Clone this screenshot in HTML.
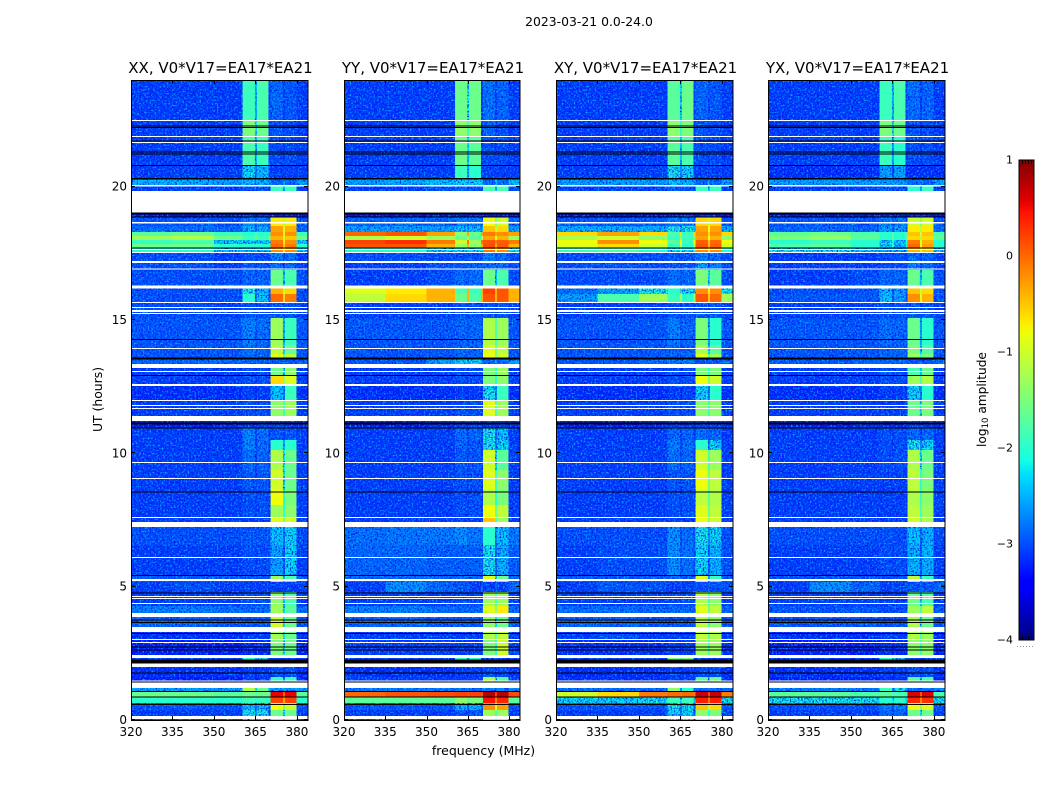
<!DOCTYPE html>
<html lang="en">
<head>
<meta charset="utf-8">
<title>2023-03-21 amplitude waterfall</title>
<style>
html,body{margin:0;padding:0;background:#fff;width:1050px;height:800px;overflow:hidden}
svg{display:block}
text{font-family:"DejaVu Sans","Liberation Sans",sans-serif;fill:#000}
</style>
</head>
<body>
<svg id="figure" xmlns="http://www.w3.org/2000/svg" width="1050" height="800" viewBox="0 0 1050 800">
  <defs>
    <filter id="speckle-dark" x="0" y="0" width="100%" height="100%" color-interpolation-filters="sRGB">
      <feTurbulence type="fractalNoise" baseFrequency="0.62" numOctaves="1" seed="4"/>
      <feColorMatrix values="0 0 0 0 0  0 0 0 0 0.08  0 0 0 0 0.92  3.5 0 0 0 -1.55"/>
    </filter>
    <filter id="speckle-light" x="0" y="0" width="100%" height="100%" color-interpolation-filters="sRGB">
      <feTurbulence type="fractalNoise" baseFrequency="0.58" numOctaves="1" seed="11"/>
      <feColorMatrix values="0 0 0 0 0  0 0 0 0 0.7  0 0 0 0 1  0 3.5 0 0 -1.75"/>
    </filter>
    <linearGradient id="jet-gradient" x1="0" y1="1" x2="0" y2="0"></linearGradient>
  </defs>
  <text x="589" y="26" font-size="12.4" text-anchor="middle">2023-03-21 0.0-24.0</text>
  <text x="483.5" y="755" font-size="12.5" text-anchor="middle">frequency (MHz)</text>
  <text x="102" y="399.5" font-size="12.4" text-anchor="middle" transform="rotate(-90 102 399.5)">UT (hours)</text>
  <text x="986" y="399.5" font-size="12.2" text-anchor="middle" transform="rotate(-90 986 399.5)">log<tspan font-size="8.5" dy="2">10</tspan><tspan dy="-2"> amplitude</tspan></text>
</svg>
<script>
// ---- chart data -------------------------------------------------------
var panelTitles = ['XX, V0*V17=EA17*EA21','YY, V0*V17=EA17*EA21','XY, V0*V17=EA17*EA21','YX, V0*V17=EA17*EA21'];
var freqTicks = [320,335,350,365,380];
var utTicks = [0,5,10,15,20];
var colorTicks = [1,0,-1,-2,-3,-4];
// channel band limits in MHz
var freqEdges = [320,335,350,360.4,364.8,365.5,369.8,370.5,374.9,375.6,379.9,384];
// top of each time row, UT hours (the last row ends at 0)
var utRowTops = [24,22.5,21.9,20.81,20.29,20.03,19.84,19.01,18.86,18.53,18.3,18.15,18,17.85,17.7,17.55,17.18,16.88,16.28,15.98,15.64,15.08,14.06,13.73,13.58,13.2,12.94,12.6,12,11.4,11.21,10.95,10.5,10.13,9.38,8.63,8.06,7.58,7.24,6.56,5.44,5.18,4.8,4.28,4.01,3.86,3.49,3.3,3,2.44,2.33,1.99,1.61,1.43,1.2,1.05,0.86,0.64,0.38];
// flagged (blank) time ranges, UT hours
var maskedRanges = [[22.46,22.5],[21.86,21.9],[21.64,21.68],[20.01,20.06],[19.03,19.82],[18.62,18.68],[17.63,17.66],[17.51,17.55],[17.14,17.21],[16.89,16.93],[16.18,16.29],[15.64,15.68],[15.45,15.49],[15.3,15.38],[15.23,15.26],[13.91,13.95],[13.2,13.35],[13.05,13.09],[12.53,12.6],[11.96,12],[11.78,11.81],[11.66,11.7],[11.21,11.4],[9.64,9.68],[9.04,9.08],[7.58,7.61],[7.24,7.43],[6.08,6.11],[5.21,5.29],[4.61,4.65],[4.54,4.58],[4.35,4.39],[3.86,4.01],[3.3,3.49],[3,3.04],[2.89,2.93],[2.33,2.44],[1.99,2.12],[1.44,1.48],[1.2,1.35],[0.04,0.15]];
// zero-amplitude (black) time ranges, UT hours
var deadRanges = [[22.26,22.3],[22.2,22.24],[21.69,21.73],[21.28,21.32],[21.21,21.25],[20.77,20.81],[20.26,20.33],[18.96,19.03],[18.84,18.88],[17.68,17.72],[14.25,14.29],[13.56,13.6],[13.52,13.56],[12.9,12.94],[11.08,11.16],[10.93,10.97],[8.53,8.57],[5.4,5.44],[4.74,4.78],[3.73,3.77],[3.64,3.68],[3.22,3.26],[2.72,2.76],[2.61,2.65],[2.12,2.26],[1.74,1.78],[1.41,1.45],[1.05,1.09],[0.84,0.88],[0.56,0.6]];
// log10 amplitude per time row: 320-335, 335-350, 350-360, band A1, band A2, band B1, band B2
var xxValues = [
[-3.1,-3.1,-3.1,-1.9,-1.8,-2.85,-2.95],[-3.1,-3.1,-3.1,-1.5,-1.6,-2.95,-3],[-3.1,-3.1,-3.1,-1.8,-1.9,-3,-3],[-3.1,-3.1,-3.1,-2.2,-2.3,-3.1,-3.1],
[-2.4,-2.4,-2.5,-2.3,-2.4,-2.85,-2.85],[-3.1,-3.1,-3.1,-2.95,-2.95,-1.9,-1.9],null,[-3.35,-3.35,-3.35,-3.3,-3.3,-3.3,-3.3],
[-2.95,-2.95,-3,-2.7,-2.7,-0.7,-0.7],[-2.8,-2.8,-2.85,-2.4,-2.4,-0.3,-0.4],[-1.7,-1.6,-1.9,-2,-2,-0.2,-0.2],[-1.3,-1.2,-1.6,-1.9,-1.9,-0.4,-0.5],
[-1.9,-1.8,-2.2,-2.2,-2.2,-0.1,-0.2],[-1.6,-1.6,-2,-2,-2,0,-0.1],[-2,-2,-2.3,-2.4,-2.4,-0.2,-0.2],[-3,-3,-3.1,-3,-3,-2.7,-2.8],
[-3,-3,-3.1,-2.95,-2.95,-2.8,-2.8],[-3,-3,-3,-2.85,-2.85,-1.6,-1.8],[-3,-3,-3,-2.1,-2.3,-0.4,-0.6],[-3,-3,-3,-2,-2.3,0,-0.1],
[-3,-3,-3.1,-3,-3,-2.95,-2.95],[-2.95,-2.95,-2.95,-2.7,-2.8,-1.3,-1.9],[-2.95,-2.95,-2.95,-2.8,-2.85,-1.1,-1.6],[-2.95,-2.95,-2.95,-2.8,-2.85,-0.9,-1.2],
[-2.85,-2.85,-2.85,-2.85,-2.85,-2.95,-2.95],[-3.1,-3.1,-3.1,-3,-3,-1.6,-1.4],[-3.1,-3.1,-3.1,-3,-3,-0.6,-0.9],[-3.2,-3.2,-3.2,-3.1,-3.1,-2.3,-1.9],
[-3.1,-3.1,-3.1,-3,-3,-1.4,-1.3],null,[-3.3,-3.3,-3.2,-3.1,-3.1,-3.1,-3.1],[-3.1,-3.1,-3.1,-2.7,-2.8,-2.95,-2.95],
[-3.1,-3.1,-3.1,-2.7,-2.8,-2,-2],[-3.1,-3.1,-3.1,-2.8,-2.85,-1.2,-1.6],[-3.1,-3.1,-3.1,-2.95,-2.95,-1,-1.6],[-3.1,-3.1,-3.1,-3,-3,-0.8,-1.5],
[-3.1,-3.1,-3.1,-3,-3,-1.3,-1.4],[-3.1,-3.1,-3.1,-3.1,-3.1,-0.9,-1],[-3,-3,-3,-2.95,-2.95,-2.3,-2.2],[-3.1,-3.1,-3.1,-3,-3,-2.5,-2.2],
[-2.95,-2.95,-2.95,-2.95,-2.95,-1.3,-1.8],[-3.1,-3,-3.1,-3.1,-3.1,-3.1,-3.1],[-3.1,-3.1,-3.1,-3,-3,-1.4,-1.8],[-2.7,-2.7,-2.8,-2.85,-2.85,-1.3,-1.7],
null,[-2.85,-2.85,-2.95,-2.95,-2.95,-1,-1.6],null,[-3.2,-3.2,-3.2,-3.1,-3.1,-1.3,-1.6],
[-3.3,-3.3,-3.3,-3.2,-3.2,-1.5,-1.6],null,[-3.1,-3.1,-3.1,-2,-2.1,-3.1,-3.1],[-3.2,-3.2,-3.2,-3.1,-3.1,-3,-3],
[-3.3,-3.3,-3.3,-3.1,-3.1,-1.9,-1.9],null,[-2.5,-2.5,-2.5,-1.2,-1.6,-2.5,-2.5],[-1.6,-1.6,-1.7,-1.6,-1.6,0.55,0.55],
[-2,-2,-2,-1.9,-1.9,0.2,0.2],[-2.95,-2.95,-2.95,-2.3,-2.3,-0.8,-1],[-3.1,-3.1,-3.1,-2.1,-2.1,-1.6,-1.6]];
var yyValues = [
[-3.1,-3.1,-3.1,-1.6,-1.6,-2.8,-2.85],[-3.1,-3.1,-3.1,-1.4,-1.4,-2.85,-2.95],[-3.1,-3.1,-3.1,-1.6,-1.7,-3,-3],[-3.1,-3.1,-3.1,-1.9,-2,-3.1,-3.1],
[-2.5,-2.4,-2.3,-2.2,-2.2,-2.8,-2.8],[-3.1,-3.1,-3,-2.85,-2.95,-1.8,-1.8],null,[-3.35,-3.35,-3.35,-3.3,-3.3,-3.3,-3.3],
[-2.85,-2.85,-2.85,-2.7,-2.7,-0.8,-1],[-2.5,-2.5,-2.5,-2.3,-2.3,-0.5,-0.6],[0,0.1,-0.3,-1.4,-1.6,-0.1,-0.2],[-1.2,-1,-1.3,-1.6,-1.7,-0.3,-0.4],
[0.2,0.3,-0.1,-1,-1.3,0.1,0.05],[0.1,0.1,-0.4,-1.3,-1.4,0.15,0.1],[-2,-2,-2.2,-2.2,-2.2,-0.1,-0.2],[-3,-3,-3,-3,-3,-2.7,-2.8],
[-3.1,-3.1,-2.95,-2.95,-2.95,-2.8,-2.8],[-3.1,-3.1,-3,-2.8,-2.8,-1.6,-1.8],[-0.9,-0.7,-0.4,-1.8,-1.9,0.2,0.1],[-1.1,-0.6,-0.4,-1.6,-1.8,0.1,0.1],
[-3.1,-3.1,-3.1,-3,-3,-2.95,-2.95],[-2.95,-2.95,-2.95,-2.85,-2.85,-1.2,-1.3],[-2.95,-2.95,-2.95,-2.85,-2.85,-0.9,-1.1],[-2.95,-2.95,-2.95,-2.85,-2.85,-0.8,-1],
[-2.95,-2.95,-2.5,-2.2,-2.2,-2.85,-2.85],[-3.1,-3.1,-3.1,-3,-3,-1.5,-1.3],[-3.1,-3.1,-3.1,-3,-3,-1.5,-1.4],[-3.2,-3.2,-3.2,-3.1,-3.1,-2.1,-1.9],
[-3.1,-3.1,-3.1,-3,-3,-0.9,-1.3],null,[-3.3,-3.3,-3.2,-3.1,-3.1,-3.1,-3.1],[-3.1,-3.1,-3.1,-2.85,-2.85,-2.1,-2.3],
[-3.1,-3.1,-3.1,-2.85,-2.95,-2.1,-2.2],[-3.1,-3.1,-3.1,-2.95,-2.95,-1,-1.7],[-3.1,-3.1,-3.1,-3,-3,-0.9,-1.4],[-3.1,-3.1,-3.1,-3,-3,-1.2,-1.5],
[-3.1,-3.1,-3.1,-3,-3,-0.8,-1.1],[-3.1,-3.1,-3.1,-3.1,-3.1,-0.5,-1.3],[-2.8,-2.75,-2.75,-2.6,-2.75,-2,-2.3],[-2.85,-2.85,-2.9,-2.9,-2.9,-2.1,-2.4],
[-2.85,-2.85,-2.85,-2.85,-2.85,-0.9,-1.6],[-3.1,-2.6,-2.85,-3,-3.1,-3.1,-3.1],[-3.1,-3.1,-3.1,-3,-3,-1.3,-1.3],[-2.7,-2.7,-2.8,-2.85,-2.85,-0.9,-0.7],
null,[-2.85,-2.85,-2.95,-2.95,-2.95,-1.4,-1.6],null,[-3.1,-3.1,-3.1,-3.1,-3.1,-1.2,-1.1],
[-3.1,-3.1,-3.1,-3.1,-3.1,-1.5,-1],null,[-3.1,-3.1,-3.1,-2,-2,-3.1,-3.1],[-3.2,-3.2,-3.2,-3.1,-3.1,-3,-3],
[-3.1,-3.1,-3.1,-3.1,-3.1,-1.2,-1.7],null,[-2.7,-2.7,-2.7,-2.7,-2.8,-2.7,-2.7],[0,0.1,0.15,0.2,0.2,0.75,0.75],
[-1.7,-1.7,-1.7,-1.4,-1.5,0.45,0.35],[-2.95,-2.95,-2.95,-2.4,-2.4,-0.2,-0.3],[-3.1,-3.1,-3.1,-2.95,-2.95,-1.3,-1.3]];
var xyValues = [
[-3.1,-3.1,-3.1,-1.7,-1.6,-2.85,-2.95],[-3.1,-3.1,-3.1,-1.4,-1.5,-2.95,-3],[-3.1,-3.1,-3.1,-1.7,-1.8,-3,-3],[-3.1,-3.1,-3.1,-2.1,-2.2,-3.1,-3.1],
[-2.5,-2.5,-2.5,-2.3,-2.4,-2.85,-2.85],[-3.1,-3.1,-3.1,-2.85,-2.95,-1.9,-1.9],null,[-3.35,-3.35,-3.35,-3.3,-3.3,-3.3,-3.3],
[-2.95,-2.95,-2.95,-2.7,-2.7,-0.6,-0.6],[-2.4,-2.4,-2.4,-2.1,-2.1,-0.3,-0.3],[-0.6,-0.3,-0.6,-1.8,-1.9,-0.2,-0.2],[-1.2,-1,-1.4,-1.9,-1.9,-0.3,-0.4],
[-0.8,-0.2,-0.8,-1.7,-1.9,0.05,0],[-0.9,-0.6,-1,-1.9,-2,0.1,0.05],[-1.9,-1.8,-2,-2.2,-2.2,-0.2,-0.2],[-3,-3,-3,-2.95,-2.95,-2.7,-2.8],
[-3,-3,-3,-2.95,-3,-2.5,-2.7],[-3,-3,-3,-2.8,-2.85,-1.5,-1.7],[-2.8,-2.5,-2.1,-2,-2.1,-0.2,-0.2],[-2.5,-1.8,-1.3,-1.9,-2,0.1,0],
[-3.1,-3.1,-3.1,-3,-3,-2.95,-2.95],[-2.95,-2.95,-2.95,-2.7,-2.85,-1.5,-2],[-2.95,-2.95,-2.95,-2.85,-2.85,-1.2,-1.7],[-2.95,-2.95,-2.95,-2.85,-2.85,-0.9,-1.3],
[-2.95,-2.95,-2.85,-2.7,-2.7,-2.95,-2.95],[-3.1,-3.1,-3.1,-3,-3,-1.5,-1.5],[-3.1,-3.1,-3.1,-3,-3,-0.8,-1],[-3.2,-3.2,-3.2,-3.1,-3.1,-2.2,-2],
[-3.1,-3.1,-3.1,-3,-3,-1.4,-1.4],null,[-3.3,-3.3,-3.2,-3.1,-3.1,-3.1,-3.1],[-3.1,-3.1,-3.1,-2.85,-2.85,-2.8,-2.85],
[-3.1,-3.1,-3.1,-2.7,-2.8,-2,-2.2],[-3.1,-3.1,-3.1,-2.8,-2.85,-1,-1.3],[-3.1,-3.1,-3.1,-2.95,-2.95,-0.8,-1.1],[-3.1,-3.1,-3.1,-3,-3,-1.1,-1.2],
[-3.1,-3.1,-3.1,-3,-3,-0.9,-1.1],[-3.1,-3.1,-3.1,-3.1,-3.1,-0.8,-1],[-3,-3,-3,-2.6,-2.8,-2.1,-2.2],[-3.1,-3,-3,-2.6,-2.8,-2.2,-2.4],
[-2.95,-2.95,-2.95,-2.85,-2.95,-0.9,-1.9],[-3.1,-2.95,-3,-3.1,-3.1,-3,-3],[-3.1,-3.1,-3.1,-3,-3,-1.2,-1.4],[-2.8,-2.8,-2.85,-2.85,-2.85,-0.9,-1.1],
null,[-2.85,-2.85,-2.95,-2.95,-2.95,-1.1,-1.4],null,[-3.1,-3,-3.1,-3.1,-3.1,-1.1,-1.2],
[-3.2,-3.2,-3.2,-3.1,-3.1,-1.3,-1.3],null,[-3.1,-3.1,-3.1,-1.5,-1.5,-3.1,-3.1],[-3.2,-3.2,-3.2,-3.1,-3.1,-3,-3],
[-3.2,-3.2,-3.2,-3.1,-3.1,-1.7,-1.6],null,[-2.8,-2.8,-2.8,-1.4,-2,-2.8,-2.8],[-1,-0.6,-0.1,0,0,0.7,0.7],
[-2.2,-2.2,-2.1,-1.9,-1.9,0.4,0.4],[-2.95,-2.95,-2.95,-2.1,-2.2,-0.5,-0.6],[-3.1,-3.1,-3.1,-2.2,-2.2,-1.4,-1.5]];
var yxValues = [
[-3.1,-3.1,-3.1,-1.9,-1.8,-2.8,-2.85],[-3.1,-3.1,-3.1,-1.5,-1.6,-2.95,-3],[-3.1,-3.1,-3.1,-1.9,-2,-3,-3],[-3.2,-3.2,-3.2,-2.5,-2.5,-3.2,-3.2],
[-2.5,-2.5,-2.5,-2.5,-2.5,-2.85,-2.85],[-3.1,-3.1,-3.1,-2.95,-2.95,-2,-1.9],null,[-3.35,-3.35,-3.35,-3.3,-3.3,-3.3,-3.3],
[-2.95,-2.95,-2.95,-2.7,-2.7,-1,-1],[-2.85,-2.85,-2.85,-2.5,-2.5,-0.7,-0.7],[-1.7,-1.6,-1.8,-2,-2,-0.5,-0.5],[-1.5,-1.4,-1.7,-2,-2,-0.6,-0.6],
[-2,-1.9,-2,-2.2,-2.3,-0.1,-0.4],[-1.8,-1.7,-2,-2.2,-2.3,0,-0.3],[-2.1,-2.1,-2.3,-2.5,-2.5,-0.4,-0.5],[-3.1,-3.1,-3.1,-3,-3,-2.8,-2.85],
[-3.1,-3.1,-3.1,-3,-3,-2.7,-2.8],[-3.1,-3.1,-3,-2.85,-2.85,-1.6,-1.8],[-3,-3,-2.95,-2.3,-2.5,-0.5,-0.6],[-2.95,-2.95,-2.95,-2.3,-2.5,-0.2,-0.4],
[-3.1,-3.1,-3.1,-3,-3,-2.95,-2.95],[-2.95,-2.95,-2.95,-2.8,-2.85,-1.6,-2],[-2.95,-2.95,-2.95,-2.85,-2.85,-1.5,-1.8],[-2.95,-2.95,-2.95,-2.85,-2.85,-1.3,-1.5],
[-2.95,-2.95,-2.85,-2.85,-2.85,-2.95,-2.95],[-3.1,-3.1,-3.1,-3,-3,-1.8,-1.6],[-3.1,-3.1,-3.1,-3,-3,-1.3,-1.2],[-3.2,-3.2,-3.2,-3.1,-3.1,-2.2,-2],
[-3.1,-3.1,-3.1,-3.1,-3.1,-1.6,-1.5],null,[-3.3,-3.3,-3.2,-3.2,-3.2,-3.1,-3.1],[-3.1,-3.1,-3.1,-3,-3,-2.85,-2.85],
[-3.1,-3.1,-3.1,-3,-3,-2.1,-2.2],[-3.1,-3.1,-3.1,-3,-3,-1.2,-1.6],[-3.1,-3.1,-3.1,-3.1,-3.1,-1.1,-1.5],[-3.1,-3.1,-3.1,-3.1,-3.1,-1.2,-1.4],
[-3.1,-3.1,-3.1,-3.1,-3.1,-1.1,-1.3],[-3.1,-3.1,-3.1,-3.1,-3.1,-1,-1.2],[-3,-3,-3,-3,-3,-2.3,-2.4],[-3.1,-3.1,-3.1,-3,-3,-2.4,-2.4],
[-3,-3,-3,-3,-3,-1.1,-1.9],[-3.1,-2.6,-2.85,-3.1,-3.1,-3,-3],[-3.1,-3.1,-3.1,-3.1,-3.1,-1.6,-1.8],[-2.95,-2.95,-2.95,-3,-3,-1.3,-1.1],
null,[-2.95,-2.95,-2.95,-3,-3,-1.2,-1.6],null,[-3.2,-3.2,-3.2,-3.1,-3.1,-1.2,-1.3],
[-3.3,-3.3,-3.3,-3.2,-3.2,-1.4,-1.4],null,[-3.1,-3.1,-3.1,-2,-2.1,-3.1,-3.1],[-3.2,-3.2,-3.2,-3.1,-3.1,-3,-3],
[-3.3,-3.3,-3.3,-3.2,-3.2,-1.7,-1.8],null,[-2.7,-2.7,-2.7,-1.9,-2.1,-2.8,-2.8],[-1.7,-1.7,-1.8,-1.7,-1.8,0.6,0.6],
[-2.1,-2.1,-2.1,-2,-2,0.35,0.3],[-3,-3,-3,-2.7,-2.7,-0.8,-0.9],[-3.1,-3.1,-3.1,-2.85,-2.85,-1.6,-1.6]];
var panelValues = [xxValues,yyValues,xyValues,yxValues];

// ---- layout -----------------------------------------------------------
var svg = document.getElementById('figure');
var defs = svg.querySelector('defs');
var NS = 'http://www.w3.org/2000/svg';
var panelLefts = [131,344,556,768];
var panelWidths = [177,176,177,177];
var plotTop = 80, plotBottom = 720;
var cbarX = 1019, cbarW = 15, cbarTop = 160, cbarBottom = 640;
var noisyBelow = -2.05;

function mk(tag, attrs, parent){
  var el = document.createElementNS(NS, tag);
  for (var k in attrs) el.setAttribute(k, attrs[k]);
  parent.appendChild(el);
  return el;
}
function interp(stops, t){
  for (var i = 1; i < stops.length; i++){
    if (t <= stops[i][0]){
      var a = stops[i-1], b = stops[i];
      return a[1] + (b[1]-a[1]) * (t-a[0]) / (b[0]-a[0]);
    }
  }
  return stops[stops.length-1][1];
}
var jetR = [[0,0],[0.35,0],[0.66,1],[0.89,1],[1,0.5]];
var jetG = [[0,0],[0.125,0],[0.375,1],[0.64,1],[0.91,0],[1,0]];
var jetB = [[0,0.5],[0.11,1],[0.34,1],[0.65,0],[1,0]];
function jet(t){
  t = Math.max(0, Math.min(1, t));
  return 'rgb(' + Math.round(255*interp(jetR,t)) + ',' + Math.round(255*interp(jetG,t)) + ',' + Math.round(255*interp(jetB,t)) + ')';
}
function colorOf(v){ return jet((v + 4) / 5); }
function xScale(left, width, f){ return left + (f - 320) * (width / 64); }
function yScale(ut){ return plotBottom - ut * ((plotBottom - plotTop) / 24); }
function cellValue(row, c){
  // channels: three background spans, then the two split receiver bands with their notches
  if (c < 3) return row[c];
  if (c === 3) return row[3];
  if (c === 4) return Math.max(Math.min(row[3], row[4]) - 0.5, row[2]);
  if (c === 5) return row[4];
  if (c === 6) return row[2];
  if (c === 7) return row[5];
  if (c === 8) return Math.max(Math.min(row[5], row[6]) - 0.5, row[2]);
  if (c === 9) return row[6];
  return row[2];
}

// ---- panels -----------------------------------------------------------
panelValues.forEach(function(matrix, p){
  var left = panelLefts[p];
  var plotW = panelWidths[p];
  var g = mk('g', {}, svg);
  
  

  var title = mk('text', {x: left + plotW/2 + 1, y: 73, 'font-size': 15, 'text-anchor': 'middle'}, g);
  title.textContent = panelTitles[p];
  
  

  var heat = mk('g', {'shape-rendering': 'crispEdges'}, g);
  
  

  var clip = mk('clipPath', {id: 'noise-clip-' + p}, defs);

  matrix.forEach(function(row, r){
    if (!row) return;
    var top = yScale(utRowTops[r]);
    var bottom = yScale(r + 1 < utRowTops.length ? utRowTops[r+1] : 0);
    for (var c = 0; c < freqEdges.length - 1; c++){
      var x0 = xScale(left, plotW, freqEdges[c]), x1 = xScale(left, plotW, freqEdges[c+1]);
      var v = cellValue(row, c);
      var cell = mk('rect', {x: x0, y: top, width: x1 - x0, height: bottom - top, fill: colorOf(v)}, heat);
      
      
      if (v < noisyBelow) mk('rect', {x: x0, y: top, width: x1 - x0, height: bottom - top}, clip);
    }
  });

  var noise = mk('g', {'clip-path': 'url(#noise-clip-' + p + ')'}, g);
  
  
  var sp1 = mk('rect', {x: left, y: plotTop, width: plotW, height: plotBottom - plotTop, filter: 'url(#speckle-dark)'}, noise);
  
  
  var sp2 = mk('rect', {x: left, y: plotTop, width: plotW, height: plotBottom - plotTop, filter: 'url(#speckle-light)'}, noise);
  
  

  maskedRanges.forEach(function(m){
    var band = mk('rect', {x: left, y: yScale(m[1]), width: plotW, height: yScale(m[0]) - yScale(m[1]), fill: '#fff', 'shape-rendering': 'crispEdges'}, g);
    
    
  });
  deadRanges.forEach(function(m){
    var band = mk('rect', {x: left, y: yScale(m[1]), width: plotW, height: yScale(m[0]) - yScale(m[1]), fill: '#000', 'shape-rendering': 'crispEdges'}, g);
    
    
  });

  var frame = mk('rect', {x: left + 0.5, y: plotTop + 0.5, width: plotW - 0.5, height: plotBottom - plotTop, fill: 'none', stroke: '#000', 'stroke-width': 1}, g);
  
  

  freqTicks.forEach(function(f){
    var x = Math.round(xScale(left, plotW, f)) + 0.5;
    var t1 = mk('line', {x1: x, x2: x, y1: plotBottom, y2: plotBottom - 4, stroke: '#000'}, g);
    
    
    var t2 = mk('line', {x1: x, x2: x, y1: plotTop, y2: plotTop + 4, stroke: '#000'}, g);
    
    
    var lab = mk('text', {x: xScale(left, plotW, f), y: 736, 'font-size': 12, 'text-anchor': 'middle'}, g);
    lab.textContent = f;
    
    
  });
  utTicks.forEach(function(u){
    var y = Math.round(yScale(u)) - 0.5;
    var t1 = mk('line', {x1: left, x2: left + 4, y1: y, y2: y, stroke: '#000'}, g);
    
    
    var t2 = mk('line', {x1: left + plotW, x2: left + plotW - 4, y1: y, y2: y, stroke: '#000'}, g);
    
    
    var lab = mk('text', {x: left - 4, y: yScale(u) + 4, 'font-size': 12, 'text-anchor': 'end'}, g);
    lab.textContent = u;
    
    
  });
});

// ---- colorbar ---------------------------------------------------------
var grad = document.getElementById('jet-gradient');
for (var i = 0; i <= 64; i++){
  mk('stop', {offset: (i/64), 'stop-color': jet(i/64)}, grad);
}
var cb = mk('g', {}, svg);


var cbRect = mk('rect', {x: cbarX, y: cbarTop, width: cbarW, height: cbarBottom - cbarTop, fill: 'url(#jet-gradient)', stroke: '#000', 'stroke-width': 1}, cb);


function cbarY(v){ return cbarBottom - (v + 4) / 5 * (cbarBottom - cbarTop); }
colorTicks.forEach(function(v){
  var lab = mk('text', {x: 1013, y: cbarY(v) + 3.5, 'font-size': 11, 'text-anchor': 'end'}, cb);
  lab.textContent = String(v).replace('-', '\u2212');
  
  
});
[cbarX + 3, cbarX + 6, cbarX + 9, cbarX + 12].forEach(function(x){
  var t1 = mk('line', {x1: x + 0.5, x2: x + 0.5, y1: cbarTop, y2: cbarTop + 4, stroke: '#000'}, cb);
  
  
  var t2 = mk('line', {x1: x + 0.5, x2: x + 0.5, y1: cbarBottom, y2: cbarBottom - 4, stroke: '#000'}, cb);
  
  
});
var dots = mk('line', {x1: 1017, x2: 1035, y1: 646.5, y2: 646.5, stroke: '#999', 'stroke-dasharray': '1 2'}, cb);


</script>
</body>
</html>
